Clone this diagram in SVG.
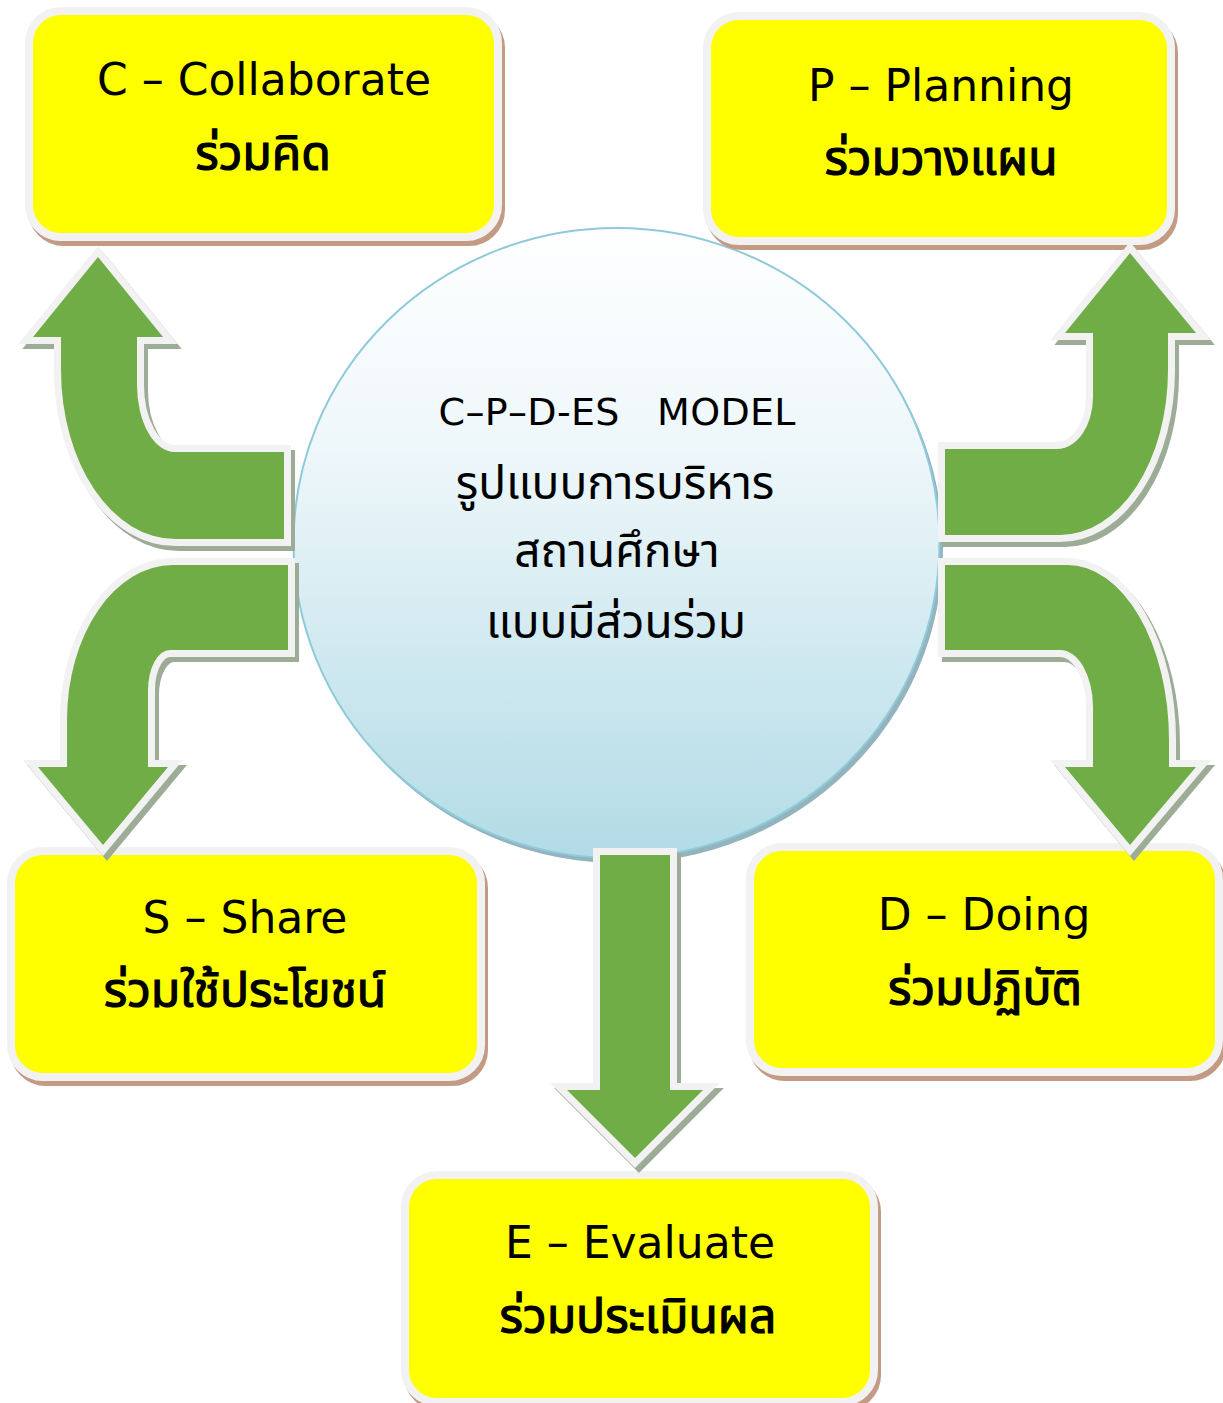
<svg xmlns="http://www.w3.org/2000/svg" width="1223" height="1403" viewBox="0 0 1223 1403">
<defs>
<linearGradient id="cg" x1="0" y1="0" x2="0" y2="1">
<stop offset="0" stop-color="#ffffff"/>
<stop offset="0.35" stop-color="#eef7fa"/>
<stop offset="1" stop-color="#b2dbe6"/>
</linearGradient>
<style>
.bsh{fill:#c39b84;stroke:#c39b84;stroke-width:8}
.box{fill:#ffff00;stroke:#f2f2f2;stroke-width:8}
.ash{fill:#9dac97;stroke:#9dac97;stroke-width:14;stroke-linejoin:miter;stroke-miterlimit:10}
.aw{fill:#f2f2f2;stroke:#f2f2f2;stroke-width:14;stroke-linejoin:miter;stroke-miterlimit:10}
.ag{fill:#70ad47}
.lat{font-family:"DejaVu Sans","Noto Sans",sans-serif;font-size:44px;fill:#000;text-anchor:middle}
.th{font-family:"Noto Sans Thai","Leelawadee UI",Tahoma,"DejaVu Sans",sans-serif;font-size:48px;font-weight:normal;fill:#000;stroke:#000;stroke-width:1.2;text-anchor:middle}
.clat{font-family:"DejaVu Sans","Noto Sans",sans-serif;font-size:38px;fill:#000;text-anchor:middle}
.cth{font-family:"Noto Sans Thai","Leelawadee UI",Tahoma,"DejaVu Sans",sans-serif;font-size:46px;fill:#000;text-anchor:middle}
</style>
</defs>
<rect width="1223" height="1403" fill="#ffffff"/>

<g id="center">
<ellipse cx="620" cy="548" rx="323" ry="315" fill="#93b3bd"/>
<ellipse cx="616.5" cy="543" rx="323" ry="315" fill="url(#cg)" stroke="#8fcadb" stroke-width="2"/>
<text class="clat" x="617" y="425" textLength="357" lengthAdjust="spacing" xml:space="preserve">C–P–D-ES   MODEL</text>
<text class="cth" x="615" y="499">รูปแบบการบริหาร</text>
<text class="cth" x="617" y="567">สถานศึกษา</text>
<text class="cth" x="616" y="638">แบบมีส่วนร่วม</text>
</g>

<g id="node-c">
<rect class="bsh" x="32" y="16" width="469" height="226" rx="32"/>
<rect class="box" x="29" y="11" width="469" height="226" rx="32"/>
<text class="lat" x="264" y="95">C – Collaborate</text>
<text class="th" x="263" y="170">ร่วมคิด</text>
</g>

<g id="node-p">
<rect class="bsh" x="710" y="21" width="464" height="225" rx="32"/>
<rect class="box" x="707" y="16" width="464" height="225" rx="32"/>
<text class="lat" x="941" y="101">P – Planning</text>
<text class="th" x="941" y="175">ร่วมวางแผน</text>
</g>

<g id="node-s">
<rect class="bsh" x="14" y="856" width="470" height="226" rx="32"/>
<rect class="box" x="11" y="851" width="470" height="226" rx="32"/>
<text class="lat" x="245" y="933">S – Share</text>
<text class="th" x="245" y="1007">ร่วมใช้ประโยชน์</text>
</g>

<g id="node-d">
<rect class="bsh" x="753" y="852" width="469" height="225" rx="32"/>
<rect class="box" x="750" y="847" width="469" height="225" rx="32"/>
<text class="lat" x="984" y="930">D – Doing</text>
<text class="th" x="985" y="1005">ร่วมปฏิบัติ</text>
</g>

<g id="node-e">
<rect class="bsh" x="408" y="1180" width="469" height="227" rx="32"/>
<rect class="box" x="405" y="1175" width="469" height="227" rx="32"/>
<text class="lat" x="640" y="1258">E – Evaluate</text>
<text class="th" x="638" y="1333">ร่วมประเมินผล</text>
</g>

<g id="connectors">
<defs>
<path id="a-tl" d="M 98 257 L 163 337 L 137 337 L 137 385 A 38 67 0 0 0 175 452 L 284 452 L 284 539 L 175 539 A 114 169 0 0 1 61 370 L 61 337 L 33 337 Z"/>
<path id="a-tr" d="M 1130 253 L 1196 333 L 1168 333 L 1168 370 A 108 165 0 0 1 1060 535 L 945 535 L 945 449 L 1057 449 A 36 52 0 0 0 1093 397 L 1093 333 L 1065 333 Z"/>
<path id="a-bl" d="M 288 565 L 173 565 A 106 155 0 0 0 67 720 L 67 767 L 38 767 L 103 845 L 168 767 L 148 767 L 148 690 A 22 40 0 0 1 170 650 L 288 650 Z"/>
<path id="a-br" d="M 945 565 L 1067 565 A 102 175 0 0 1 1169 740 L 1169 767 L 1196 767 L 1130 845 L 1065 767 L 1093 767 L 1093 707 A 33 57 0 0 0 1060 650 L 945 650 Z"/>
<path id="a-b" d="M 600 855 L 670 855 L 670 1090 L 703 1090 L 635 1158 L 567 1090 L 600 1090 Z"/>
</defs>
<g id="arrow-c">
<use href="#a-tl" class="ash" transform="translate(4,5)"/>
<use href="#a-tl" class="aw"/>
<use href="#a-tl" class="ag"/>
</g>
<g id="arrow-p">
<use href="#a-tr" class="ash" transform="translate(4,5)"/>
<use href="#a-tr" class="aw"/>
<use href="#a-tr" class="ag"/>
</g>
<g id="arrow-s">
<use href="#a-bl" class="ash" transform="translate(4,5)"/>
<use href="#a-bl" class="aw"/>
<use href="#a-bl" class="ag"/>
</g>
<g id="arrow-d">
<use href="#a-br" class="ash" transform="translate(4,5)"/>
<use href="#a-br" class="aw"/>
<use href="#a-br" class="ag"/>
</g>
<g id="arrow-e">
<use href="#a-b" class="ash" transform="translate(4,5)"/>
<use href="#a-b" class="aw"/>
<use href="#a-b" class="ag"/>
</g>
</g>
</svg>
